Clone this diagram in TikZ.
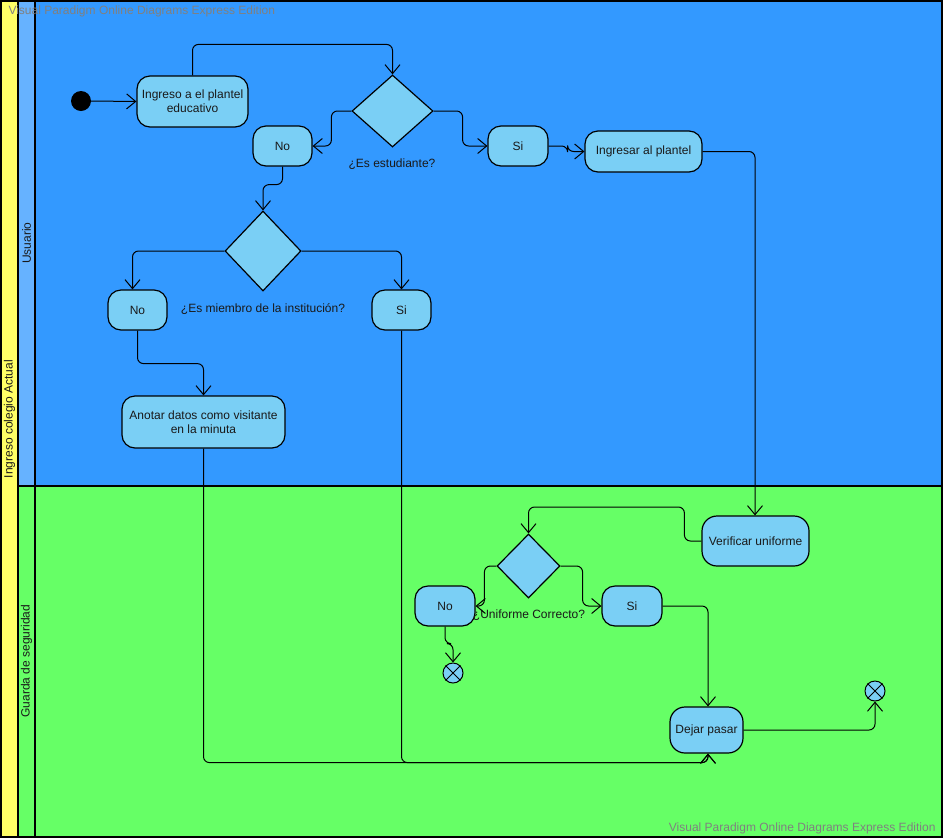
\documentclass[tikz,border=0pt]{standalone}
\usepackage{fontspec}
\setmainfont{Liberation Sans}
\usetikzlibrary{shapes.geometric,arrows.meta,calc}
\definecolor{laneblue}{RGB}{51,153,255}
\definecolor{headblue}{RGB}{102,178,255}
\definecolor{lanegreen}{RGB}{102,255,102}
\definecolor{poolyellow}{RGB}{255,255,102}
\definecolor{nodefill}{RGB}{122,207,245}
\definecolor{wmgray}{RGB}{128,128,128}
\tikzset{
  txt/.style={font=\fontsize{12}{14}\selectfont, text=black!90},
  act/.style={draw, line width=1.2pt, fill=nodefill, rounded corners=13pt, inner sep=0pt, align=center, txt},
  dec/.style={draw, diamond, line width=1.2pt, fill=nodefill, inner sep=0pt},
  fin/.style={draw, circle, line width=1pt, fill=nodefill, minimum size=20pt, inner sep=0pt},
  arr/.style={-{Straight Barb[length=9pt,width=15pt,line width=1pt]}, line width=1pt, rounded corners=6pt},
  lanebox/.style={line width=1.5pt},
  wm/.style={font=\fontsize{12}{14}\selectfont, text=wmgray}
}
\begin{document}
\begin{tikzpicture}[x=1pt,y=-1pt]
\useasboundingbox (0,0) rectangle (944,839);
% lanes
\fill[poolyellow] (1,1) rectangle (18,837);
\fill[headblue] (18,1) rectangle (35,486);
\fill[laneblue] (35,1) rectangle (942,486);
\fill[lanegreen] (18,486) rectangle (942,837);
\draw[lanebox] (1,1) rectangle (942,837);
\draw[lanebox] (18,1) -- (18,837);
\draw[lanebox] (35,1) -- (35,837);
\draw[lanebox] (18,486) -- (942,486);
\node[txt, rotate=90] (pool) at (9.5,419) {Ingreso colegio Actual};
\node[txt, rotate=90] (lane1) at (26.5,243) {Usuario};
\node[txt, rotate=90] (lane2) at (26.5,661) {Guarda de seguridad};
% watermarks
\node[wm, anchor=west] (wm1) at (5,11) {Visual Paradigm Online Diagrams Express Edition};
\node[wm, anchor=east] (wm2) at (939,828) {Visual Paradigm Online Diagrams Express Edition};
% nodes
\node[circle, fill=black, minimum size=20pt, inner sep=0pt] (start) at (81,101) {};
\node[act, minimum width=111pt, minimum height=51pt] (ing) at (192.5,101.5) {Ingreso a el plantel\\educativo};
\node[dec, minimum width=81pt, minimum height=72pt] (d1) at (392.5,111) {};
\node[txt] (l1) at (392,164) {¿Es estudiante?};
\node[act, minimum width=59pt, minimum height=40pt] (no1) at (282.5,146) {No};
\node[act, minimum width=60pt, minimum height=40pt] (si1) at (518,146) {Si};
\node[act, minimum width=117pt, minimum height=41pt] (ing2) at (643.5,151.5) {Ingresar al plantel};
\node[dec, minimum width=76pt, minimum height=80pt] (d2) at (263,251) {};
\node[txt] (l2) at (263,309) {¿Es miembro de la institución?};
\node[act, minimum width=59pt, minimum height=40pt] (no2) at (137.5,310) {No};
\node[act, minimum width=59pt, minimum height=40pt] (si2) at (401.5,310) {Si};
\node[act, minimum width=163pt, minimum height=52pt] (anot) at (203.5,422) {Anotar datos como visitante\\en la minuta};
\node[act, minimum width=107pt, minimum height=50pt, rounded corners=15pt] (ver) at (755.5,541) {Verificar uniforme};
\node[dec, minimum width=63pt, minimum height=64pt] (d3) at (528.5,566) {};
\node[act, minimum width=60pt, minimum height=40pt] (no3) at (445,606) {No};
\node[act, minimum width=60pt, minimum height=40pt] (si3) at (632,606) {Si};
\node[txt] (l3) at (529,615) {¿Uniforme Correcto?};
\node[fin] (f1) at (453,673) {};
\draw[line width=1pt] (f1.north east) -- (f1.south west) (f1.north west) -- (f1.south east);
\node[act, minimum width=73pt, minimum height=46pt, rounded corners=15pt] (dej) at (706.5,730) {Dejar pasar};
\node[fin] (f2) at (875,691) {};
\draw[line width=1pt] (f2.north east) -- (f2.south west) (f2.north west) -- (f2.south east);
% connectors
\draw[arr] (start.east) -- (ing.west);
\draw[arr] (ing.north) -- ++(0,-31) -| (d1.north);
\draw[arr] (d1.west) -- ++(-20,0) |- (no1.east);
\draw[arr] (d1.east) -- ++(29,0) |- (si1.west);
\draw[arr] (si1.east) -- ++(19,0) |- (ing2.west);
\draw[arr] (no1.south) -- ++(0,18) -| (d2.north);
\draw[arr] (d2.west) -| ([xshift=-5pt]no2.north);
\draw[arr] (d2.east) -| (si2.north);
\draw[arr] (no2.south) -- ++(0,33) -| (anot.north);
\draw[arr] (ing2.east) -| ([xshift=-0.5pt]ver.north);
\draw[arr] (ver.west) -- ++(-17,0) -- ++(0,-34) -| (d3.north);
\draw[arr] (d3.west) -- ++(-12,0) |- (no3.east);
\draw[arr] (d3.east) -- ++(22,0) |- (si3.west);
\draw[arr] (no3.south) -- ++(0,17) -| (f1.north);
\draw[arr] (si3.east) -| ([xshift=1.5pt]dej.north);
\draw[arr] (dej.east) -| (f2.south);
\draw[arr] (anot.south) |- ($(dej.south)+(1.5,9)$) -- ([xshift=1.5pt]dej.south);
\draw[arr] (si2.south) |- ($(dej.south)+(1.5,9)$) -- ([xshift=1.5pt]dej.south);
\end{tikzpicture}
\end{document}
